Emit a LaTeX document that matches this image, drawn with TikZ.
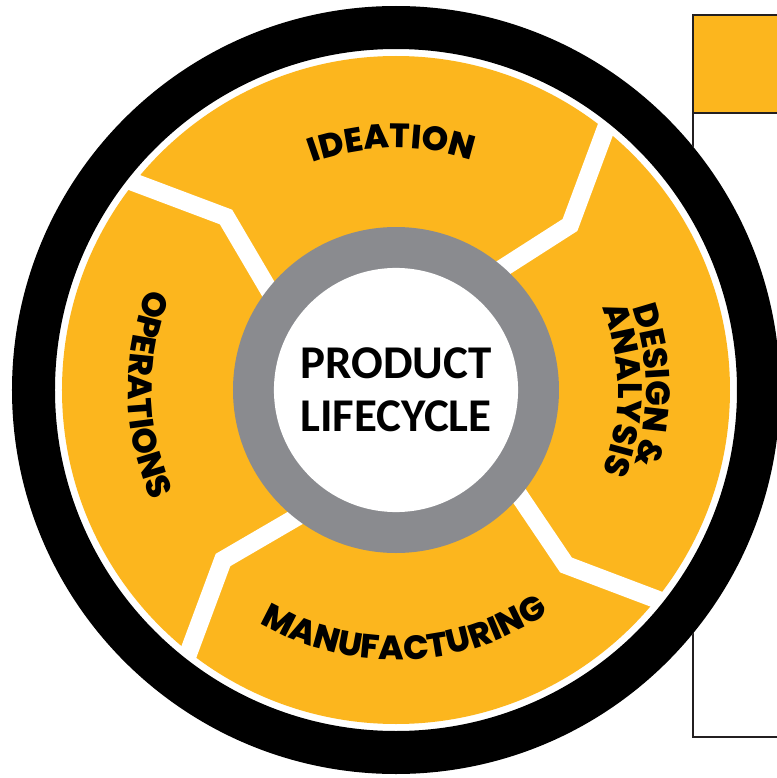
\documentclass[tikz,border=0pt]{standalone}
\usepackage{fontspec}
\newfontfamily\segfont{Poppins}[BoldFont={* ExtraBold}]
\newfontfamily\hubfont{Carlito}
\usepackage{tikz}
\usetikzlibrary{decorations.text}

\definecolor{lcorange}{RGB}{252,182,30}
\definecolor{lcgray}{RGB}{138,139,143}
\definecolor{lcframe}{RGB}{35,31,32}

\tikzset{
  band/.style={white, line width=12.8pt, line join=miter},
  arclabel/.style={decorate, decoration={text along path, text align=center,
    text={|\segfont\bfseries\fontsize{24}{28}\selectfont|#1}}}
}

\begin{document}
\begin{tikzpicture}[x=0.025cm, y=0.025cm]

\useasboundingbox (-396,-388) rectangle (381,390);
\clip (-396,-388) rectangle (381,390);

% Define side box
\draw[lcframe, line width=1.8pt] (297,-347) rectangle (420,277);
\draw[lcframe, fill=lcorange, line width=1.8pt] (297,277) rectangle (420,375);

% Wheel
\fill[white] (0,0) circle[radius=384];
\fill[lcorange] (0,0) circle[radius=334];

% Draw separators
\draw[band] (-113,76) -- (-170,173) -- (-271,211);
\draw[band] (85,108) -- (174,165) -- (213,270);
\draw[band] (114,-92) -- (170,-175) -- (273,-214);
\draw[band] (-82,-117) -- (-173,-170) -- (-212,-275);

\fill[black, even odd rule] (0,0) circle[radius=384] (0,0) circle[radius=341];
\fill[lcgray] (0,0) circle[radius=163];
\node[circle, fill=white, minimum size=173.6pt, inner sep=0pt, align=center,
  font=\hubfont\bfseries\fontsize{33.4}{37.7}\selectfont] (hub) at (0,0) {PRODUCT\\LIFECYCLE};

% Add labels along the wheel
\path[arclabel=IDEATION] (115:242) arc[start angle=115, end angle=67, radius=242];
\path[arclabel={DESIGN {\&}}] (24:250) arc[start angle=24, end angle=-22, radius=250];
\path[arclabel=ANALYSIS] (24:222) arc[start angle=24, end angle=-24, radius=222];
\path[arclabel=MANUFACTURING] (-132:270) arc[start angle=-132, end angle=-44, radius=270];
\path[arclabel=OPERATIONS] (150:268) arc[start angle=150, end angle=212, radius=268];

\end{tikzpicture}
\end{document}
